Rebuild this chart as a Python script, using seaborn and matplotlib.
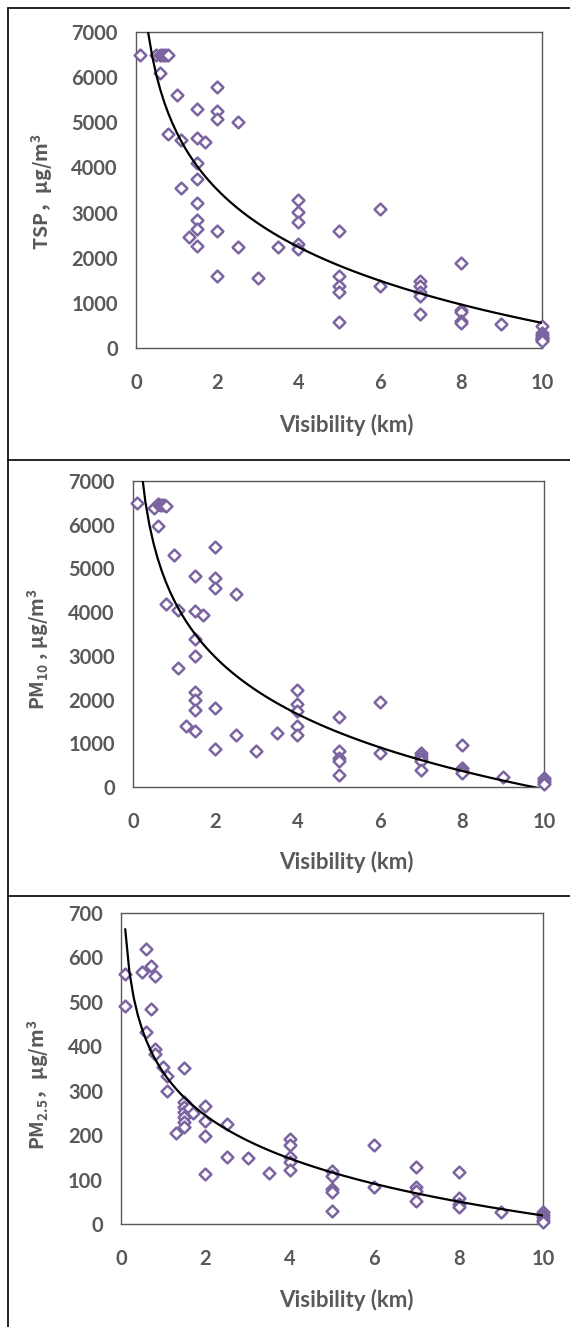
import numpy as np
import matplotlib
matplotlib.use("Agg")
import matplotlib.pyplot as plt
from matplotlib.lines import Line2D
import seaborn as sns

# visibility (km) and concentration (ug/m3)
tsp_vis = [0.1, 0.5, 0.6, 0.65, 0.7, 0.75, 0.8, 0.6, 1.0, 2.0, 1.5, 2.0, 2.0, 2.5,
           0.8, 1.1, 1.5, 1.7, 1.5, 1.5, 1.1, 1.5, 4.0, 4.0, 4.0, 6.0, 1.5, 1.5,
           1.3, 1.5, 2.0, 2.5, 3.5, 4.0, 4.0, 5.0, 2.0, 3.0, 5.0, 5.0, 5.0, 5.0,
           6.0, 7.0, 7.0, 7.0, 7.0, 7.0, 8.0, 8.0, 8.0, 8.0, 8.0, 9.0,
           10, 10, 10, 10, 10, 10, 10, 10]
tsp_val = [6500, 6500, 6500, 6500, 6500, 6500, 6500, 6100, 5600, 5780, 5300, 5240, 5070, 5000,
           4730, 4610, 4650, 4560, 4100, 3750, 3550, 3220, 3270, 3010, 2790, 3070, 2840, 2640,
           2450, 2260, 2600, 2230, 2230, 2300, 2200, 2600, 1600, 1545, 1600, 1375, 1250, 580,
           1380, 1480, 1375, 1250, 1160, 750, 1890, 850, 800, 590, 550, 537,
           490, 330, 290, 250, 220, 200, 170, 150]

pm10_vis = [0.1, 0.5, 0.6, 0.65, 0.7, 0.75, 0.8, 0.6, 1.0, 2.0, 1.5, 2.0, 2.0, 2.5,
            0.8, 1.1, 1.5, 1.7, 1.5, 1.5, 1.1, 1.5, 1.5, 1.5, 2.0, 1.3, 1.5, 2.0,
            2.5, 3.0, 3.5, 4.0, 4.0, 4.0, 4.0, 4.0, 5.0, 5.0, 5.0, 5.0, 5.0,
            6.0, 6.0, 7.0, 7.0, 7.0, 7.0, 7.0, 8.0, 8.0, 8.0, 8.0, 9.0,
            10, 10, 10, 10]
pm10_val = [6490, 6380, 6480, 6460, 6450, 6450, 6430, 5960, 5300, 5490, 4820, 4780, 4550, 4420,
            4190, 4060, 4020, 3930, 3390, 2990, 2730, 2170, 1990, 1770, 1800, 1390, 1280, 880,
            1180, 820, 1230, 2230, 1890, 1730, 1390, 1180, 1610, 820, 670, 600, 270,
            1950, 780, 770, 700, 650, 600, 400, 970, 440, 380, 330, 240,
            210, 160, 120, 80]

pm25_vis = [0.1, 0.1, 0.6, 0.5, 0.7, 0.8, 0.7, 0.6, 0.8, 0.8, 1.0, 1.1, 1.1, 1.5,
            1.3, 1.5, 1.5, 1.5, 1.5, 1.5, 1.5, 1.6, 1.7, 2.0, 2.0, 2.0, 2.0,
            2.5, 2.5, 3.0, 3.5, 4.0, 4.0, 4.0, 4.0, 4.0, 5.0, 5.0, 5.0, 5.0, 5.0,
            6.0, 6.0, 7.0, 7.0, 7.0, 7.0, 8.0, 8.0, 8.0, 8.0, 9.0,
            10, 10, 10, 10, 10]
pm25_val = [563, 490, 618, 567, 580, 558, 485, 433, 394, 383, 353, 332, 300, 352,
            204, 274, 263, 252, 240, 229, 218, 260, 249, 266, 231, 199, 113,
            224, 150, 148, 115, 192, 178, 150, 139, 122, 119, 109, 79, 71, 30,
            177, 84, 129, 84, 75, 51, 116, 59, 45, 39, 26,
            27, 20, 15, 10, 5]

ylabels = ["TSP，μg/m$^3$", "PM$_{10}$ , μg/m$^3$", "PM$_{2.5}$，μg/m$^3$"]
ymax = [7000, 7000, 700]
ystep = [1000, 1000, 100]

PURPLE = "#7b64a0"
GREY = "#595959"
W, H = 570, 1327

sns.set_style("white")
plt.rcParams["font.family"] = ["Lato", "DejaVu Sans"]
plt.rcParams["mathtext.default"] = "regular"

fig = plt.figure(figsize=(W / 100, H / 100), dpi=100)

# axes boxes in pixels: left, right, top, bottom
boxes = [(136, 542, 32, 348), (133, 544, 481, 787), (121, 543, 913, 1224)]
ylab_pos = [(42, 192), (38, 649), (38, 1085)]
xlab_y = [425, 862, 1300]

panels = [(tsp_vis, tsp_val), (pm10_vis, pm10_val), (pm25_vis, pm25_val)]

for i, (vis, val) in enumerate(panels):
    l, r, t, b = boxes[i]
    ax = fig.add_axes([l / W, 1 - b / H, (r - l) / W, (b - t) / H])

    sns.scatterplot(x=np.array(vis), y=np.array(val), ax=ax, marker="D", s=36,
                    color="white", edgecolor=PURPLE, linewidth=1.8, clip_on=False, zorder=3)
    # Excel-style logarithmic trendline: y ~ ln(x)
    sns.regplot(x=np.array(vis), y=np.array(val), ax=ax, logx=True, scatter=False,
                ci=None, color="black", line_kws={"lw": 1.6, "zorder": 4})

    ax.set_xlim(0, 10)
    ax.set_ylim(0, ymax[i])
    ax.set_xticks(range(0, 11, 2))
    ax.set_yticks(range(0, ymax[i] + 1, ystep[i]))
    ax.tick_params(length=0, labelsize=14.5, labelcolor=GREY)
    ax.tick_params(axis="x", pad=18)
    ax.tick_params(axis="y", pad=13)
    for lab in ax.get_xticklabels() + ax.get_yticklabels():
        lab.set_fontweight("bold")
    for sp in ax.spines.values():
        sp.set_color(GREY)
        sp.set_linewidth(1.0)

    ax.set_xlabel("Visibility (km)", fontsize=16, fontweight="bold", color=GREY)
    ax.xaxis.set_label_coords((346 - l) / (r - l), (b - xlab_y[i]) / (b - t))
    ax.xaxis.label.set_va("center")

    ax.set_ylabel(ylabels[i], fontsize=14, fontweight="bold", color=GREY,
                  family="Noto Sans CJK SC")
    lx, ly = ylab_pos[i]
    ax.yaxis.set_label_coords((lx - l) / (r - l), (b - ly) / (b - t))
    ax.yaxis.label.set_va("center")

# outer frame and panel separators
def hline(y):
    fig.add_artist(Line2D([8 / W, 1], [1 - y / H, 1 - y / H], color="black", lw=1.2))

hline(8)
hline(460)
hline(896)
fig.add_artist(Line2D([8 / W, 8 / W], [0, 1 - 8 / H], color="black", lw=1.2))

fig.savefig("out.png", dpi=100)
